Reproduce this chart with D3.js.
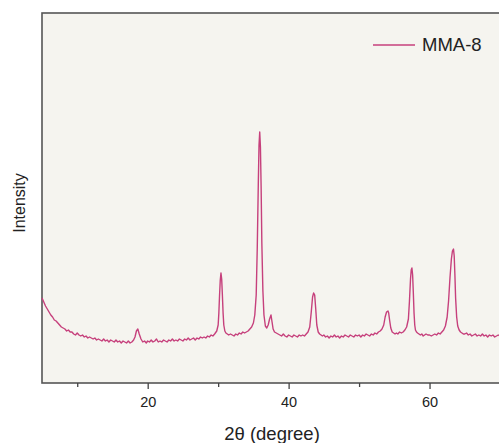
<!DOCTYPE html>
<html><head><meta charset="utf-8">
<script src="https://cdn.jsdelivr.net/npm/d3@7"></script>
<style>body{margin:0;background:#fff}svg{display:block}</style>
</head><body>
<script>
const seriesName = "MMA-8";
const twoTheta = [
5.0,5.25,5.5,5.75,6.0,6.25,6.5,6.75,7.0,7.25,7.5,7.75,8.0,8.25,8.5,8.75,9.0,9.25,9.5,9.75,
10.0,10.25,10.5,10.75,11.0,11.25,11.5,11.75,12.0,12.25,12.5,12.75,13.0,13.25,13.5,13.75,14.0,14.25,14.5,14.75,
15.0,15.25,15.5,15.75,16.0,16.25,16.5,16.75,17.0,17.25,17.5,17.75,18.0,18.2,18.4,18.6,18.8,19.05,19.3,19.55,19.8,
20.0,20.25,20.5,20.75,21.0,21.25,21.5,21.75,22.0,22.25,22.5,22.75,23.0,23.25,23.5,23.75,24.0,24.25,24.5,24.75,
25.0,25.25,25.5,25.75,26.0,26.25,26.5,26.75,27.0,27.25,27.5,27.75,28.0,28.25,28.5,28.75,29.0,29.25,29.5,29.8,
30.0,30.1,30.2,30.3,30.4,30.5,30.6,30.7,30.8,30.95,31.1,31.3,31.5,31.75,32.0,32.25,32.5,32.75,33.0,33.25,33.5,33.75,
34.0,34.25,34.5,34.75,35.0,35.2,35.4,35.55,35.7,35.8,35.9,36.0,36.1,36.2,36.35,36.5,36.7,36.9,37.1,37.3,37.5,37.65,37.8,38.0,38.25,38.5,38.75,
39.0,39.25,39.5,39.75,40.0,40.25,40.5,40.75,41.0,41.25,41.5,41.75,42.0,42.25,42.5,42.75,43.0,43.2,43.4,43.55,43.7,43.85,44.0,44.2,44.4,44.6,44.8,
45.0,45.25,45.5,45.75,46.0,46.25,46.5,46.75,47.0,47.25,47.5,47.75,48.0,48.25,48.5,48.75,49.0,49.25,49.5,49.75,
50.0,50.25,50.5,50.75,51.0,51.25,51.5,51.75,52.0,52.25,52.5,52.75,53.0,53.25,53.5,53.7,53.9,54.1,54.2,54.35,54.5,54.7,54.9,55.1,55.3,55.5,55.75,
56.0,56.25,56.5,56.75,57.0,57.15,57.3,57.4,57.5,57.6,57.7,57.8,57.9,58.0,58.15,58.3,58.5,58.7,58.9,59.1,59.3,59.5,59.75,
60.0,60.25,60.5,60.75,61.0,61.25,61.5,61.75,62.0,62.25,62.5,62.7,62.9,63.1,63.25,63.4,63.5,63.6,63.7,63.85,64.0,64.2,64.4,64.6,64.8,
65.0,65.25,65.5,65.75,66.0,66.25,66.5,66.75,67.0,67.25,67.5,67.75,68.0,68.25,68.5,68.75,69.0,69.25,69.5,69.75,70.0
];
const intensity = [
85,81,77,74,71,68,66,63,62,60,58,56,55,54,52,53,51,51,49,48,
50,48,47,48,46,47,45,46,45,44,45,43,44,43,42,44,42,43,41,43,
42,41,43,41,42,40,42,41,40,42,40,41,43,46,52,54,49,44,41,42,40,
42,41,43,41,42,44,41,42,41,43,42,41,43,42,44,42,43,42,44,43,
42,44,43,45,43,44,45,43,45,44,46,45,46,45,47,46,48,47,49,52,
58,70,88,103,110,104,88,70,58,52,50,49,48,49,48,47,49,48,50,49,51,50,
51,52,54,56,60,68,88,135,200,238,251,236,195,140,92,68,57,55,58,64,68,61,54,51,50,49,48,
47,49,47,46,48,47,46,48,47,46,48,47,48,47,49,51,56,70,86,90,88,74,58,51,49,48,47,
48,46,47,45,47,46,48,46,47,45,47,46,48,47,46,48,47,46,48,47,
48,46,48,47,49,48,47,49,48,50,49,51,52,54,58,66,71,72,70,62,55,51,50,49,50,49,51,
50,51,53,56,64,82,104,113,115,108,90,70,58,53,51,50,49,48,49,47,48,49,48,
48,47,48,49,48,50,49,51,53,57,66,82,105,124,132,134,127,108,85,66,57,53,51,50,49,
49,50,48,49,47,48,49,47,48,47,49,47,48,46,48,47,48,46,47,48,47
];
const xTicks = [10,20,30,40,50,60,70];
const xTickLabels = ["","20","","40","","60",""];

const W=499,H=443;
const x=d3.scaleLinear().domain([5,70]).range([42,500]);
const y=d3.scaleLinear().domain([0,370]).range([383,13]);
const font="Liberation Sans, Arial, sans-serif";
const svg=d3.select("body").append("svg").attr("width",W).attr("height",H);
svg.append("rect").attr("x",42).attr("y",13).attr("width",460).attr("height",370)
  .attr("fill","#f5f4ef").attr("stroke","#555").attr("stroke-width",1.6);
const data=twoTheta.map((t,i)=>[t,intensity[i]]);
svg.append("path").datum(data).attr("fill","none").attr("stroke","#c6407c").attr("stroke-width",1.4)
  .attr("stroke-linejoin","round")
  .attr("d",d3.line().x(d=>x(d[0])).y(d=>y(d[1])));
const ax=svg.append("g").attr("transform","translate(0,383)")
  .call(d3.axisBottom(x).tickValues(xTicks).tickFormat((d,i)=>xTickLabels[i]).tickSize(5).tickPadding(9));
ax.select(".domain").remove();
ax.selectAll(".tick line").attr("stroke","#444").attr("stroke-width",1.3)
  .attr("y2",(d,i)=>xTickLabels[i]?6:4);
ax.selectAll(".tick text").attr("font-family",font).attr("font-size",14.5).attr("fill","#222");
svg.append("text").attr("x",272).attr("y",440).attr("text-anchor","middle")
  .attr("font-family",font).attr("font-size",18.5).attr("fill","#222").text("2θ (degree)");
svg.append("text").attr("transform","translate(25,203) rotate(-90)").attr("text-anchor","middle")
  .attr("font-family",font).attr("font-size",16).attr("fill","#222").text("Intensity");
svg.append("line").attr("x1",373).attr("x2",415).attr("y1",45).attr("y2",45).attr("stroke","#c6407c").attr("stroke-width",1.4);
svg.append("text").attr("x",422).attr("y",51).attr("font-family",font)
  .attr("font-size",18.5).attr("fill","#222").text(seriesName);
</script>
</body></html>
